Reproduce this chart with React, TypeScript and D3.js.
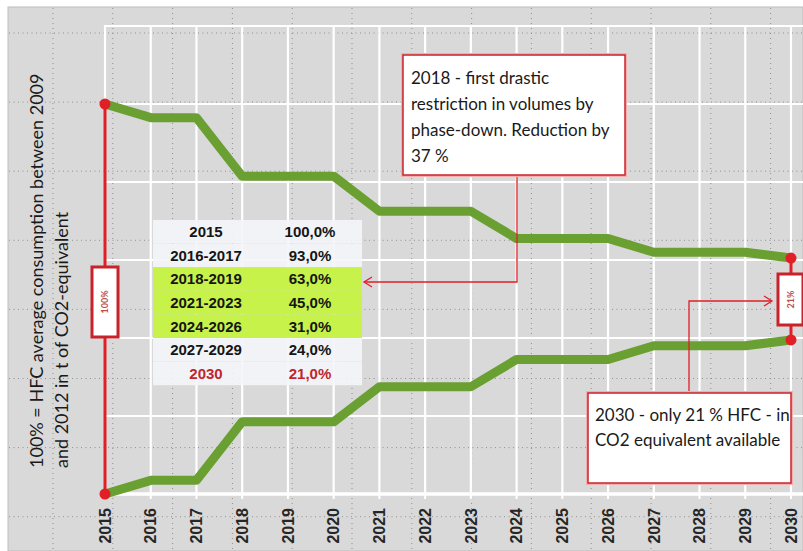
import React from 'react';
import * as d3 from 'd3';

const years = [2015, 2016, 2017, 2018, 2019, 2020, 2021, 2022, 2023, 2024, 2025, 2026, 2027, 2028, 2029, 2030];
const quota = [100, 93, 93, 63, 63, 63, 45, 45, 45, 31, 31, 31, 24, 24, 24, 21];
const yTicks = [0, 20, 40, 60, 80, 100, 120];
const tablePeriods = ['2015', '2016-2017', '2018-2019', '2021-2023', '2024-2026', '2027-2029', '2030'];
const tableValues = ['100,0%', '93,0%', '63,0%', '45,0%', '31,0%', '24,0%', '21,0%'];
const tableHighlight = [false, false, true, true, true, false, false];
const axisTitle = ['100% = HFC average consumption between 2009', 'and 2012 in t of CO2-equivalent'];
const note1 = ['2018 - first drastic', 'restriction in volumes by', 'phase-down. Reduction by', '37 %'];
const note2 = ['2030 - only 21 % HFC - in', 'CO2 equivalent available'];
const startLabel = '100%';
const endLabel = '21%';

const GREEN = '#6a9f32';
const RED = '#e01f26';
const BOX_RED = '#c8232b';
const NOTE_FONT = 'Lato, "Open Sans", sans-serif';
const BOLD_FONT = '"Liberation Sans", Arial, sans-serif';

export default function App() {
  const W = 803;
  const H = 551;
  const x = d3.scaleLinear().domain([2015, 2030]).range([105, 791]);
  const y = d3.scaleLinear().domain([0, 120]).range([494, 26]);
  const line = d3.line<[number, number]>().x((d) => d[0]).y((d) => d[1]);
  const upper: [number, number][] = years.map((yr, i) => [x(yr), y(50 + quota[i] / 2)]);
  const lower: [number, number][] = years.map((yr, i) => [x(yr), y(50 - quota[i] / 2)]);

  const dotH = d3.range(8).map((i) => 33 + i * 69.1);
  const dotV = d3.range(13).map((i) => 53 + i * 59.8);

  const x0 = x(years[0]);
  const x1 = x(years[years.length - 1]);
  const first = quota[0];
  const last = quota[quota.length - 1];
  const y0Top = y(50 + first / 2);
  const y0Bot = y(50 - first / 2);
  const y1Top = y(50 + last / 2);
  const y1Bot = y(50 - last / 2);

  const tX = 153, tW = 209, tY = 220, rowH = 23.6;
  const c1 = 206, c2 = 310;

  return (
    <svg width={W} height={H} style={{ position: 'absolute', left: 0, top: 0 }}>
      <rect x={0} y={0} width={W} height={H} fill="#ffffff" />
      <rect x={8} y={7} width={W - 8} height={H - 7} fill="#d9d9d9" stroke="#bdbdbd" strokeWidth={1} />

      {dotH.map((v, i) => (
        <line key={'dh' + i} x1={9} x2={W} y1={v} y2={v} stroke="#8f8f8f" strokeWidth={1} strokeDasharray="1,3.5" />
      ))}
      {dotV.map((v, i) => (
        <line key={'dv' + i} x1={v} x2={v} y1={8} y2={H} stroke="#8f8f8f" strokeWidth={1} strokeDasharray="1,4" />
      ))}

      {yTicks.map((t) => (
        <line key={'gh' + t} x1={x0 - 1} x2={W} y1={y(t)} y2={y(t)} stroke="#ffffff" strokeWidth={2.2} />
      ))}
      {years.map((yr) => (
        <line key={'gv' + yr} x1={x(yr)} x2={x(yr)} y1={y(120)} y2={y(0)} stroke="#ffffff" strokeWidth={2.2} />
      ))}
      <line x1={x0 - 2} x2={W} y1={y(0)} y2={y(0)} stroke="#ffffff" strokeWidth={3.5} />
      {years.map((yr) => (
        <line key={'tk' + yr} x1={x(yr)} x2={x(yr)} y1={y(0)} y2={y(0) + 5} stroke="#ffffff" strokeWidth={2} />
      ))}

      {years.map((yr) => (
        <text
          key={'xl' + yr}
          transform={`translate(${x(yr)},508) rotate(-90)`}
          textAnchor="end"
          dy="0.36em"
          fontFamily={BOLD_FONT}
          fontWeight="bold"
          fontSize={16}
          fill="#262626"
        >
          {yr}
        </text>
      ))}

      {axisTitle.map((t, i) => (
        <text
          key={'at' + i}
          transform={`translate(${37 + i * 25},468) rotate(-90)`}
          textAnchor="start"
          dy="0.35em"
          fontFamily={NOTE_FONT}
          fontSize={18}
          fill="#1a1a1a"
        >
          {t}
        </text>
      ))}

      {tablePeriods.map((p, i) => (
        <g key={'tr' + i}>
          <rect
            x={tX}
            y={tY + i * rowH}
            width={tW}
            height={rowH}
            fill={tableHighlight[i] ? '#c6f24a' : '#f3f5f8'}
            opacity={tableHighlight[i] ? 1 : 0.9}
          />
          <text x={c1} y={tY + i * rowH + rowH / 2} dy="0.36em" textAnchor="middle" fontFamily={BOLD_FONT} fontWeight="bold" fontSize={15} fill={i === tablePeriods.length - 1 ? '#c0262d' : '#151515'}>
            {p}
          </text>
          <text x={c2} y={tY + i * rowH + rowH / 2} dy="0.36em" textAnchor="middle" fontFamily={BOLD_FONT} fontWeight="bold" fontSize={15} fill={i === tablePeriods.length - 1 ? '#c0262d' : '#151515'}>
            {tableValues[i]}
          </text>
        </g>
      ))}

      <path d={line(upper) || ''} fill="none" stroke={GREEN} strokeWidth={9} strokeLinejoin="round" />
      <path d={line(lower) || ''} fill="none" stroke={GREEN} strokeWidth={9} strokeLinejoin="round" />

      <line x1={x0} x2={x0} y1={y0Top} y2={y0Bot} stroke={RED} strokeWidth={3} />
      <circle cx={x0} cy={y0Top} r={5.5} fill={RED} />
      <circle cx={x0} cy={y0Bot} r={5.5} fill={RED} />
      <rect x={x0 - 13} y={267} width={26} height={70} fill="#ffffff" stroke={BOX_RED} strokeWidth={3} />
      <text transform={`translate(${x0},302) rotate(-90)`} textAnchor="middle" dy="0.35em" fontFamily={NOTE_FONT} fontWeight="bold" fontSize={9} fill="#c0504d">
        {startLabel}
      </text>

      <line x1={x1} x2={x1} y1={y1Top} y2={y1Bot} stroke={RED} strokeWidth={3} />
      <circle cx={x1} cy={y1Top} r={5.5} fill={RED} />
      <circle cx={x1} cy={y1Bot} r={5.5} fill={RED} />
      <rect x={x1 - 13} y={274} width={25} height={51} fill="#ffffff" stroke={BOX_RED} strokeWidth={3} />
      <text transform={`translate(${x1},299.5) rotate(-90)`} textAnchor="middle" dy="0.35em" fontFamily={NOTE_FONT} fontWeight="bold" fontSize={9} fill="#c0504d">
        {endLabel}
      </text>

      <path d="M517,175 V282 H364" fill="none" stroke={RED} strokeWidth={1.3} />
      <path d="M372,277 L364,282 L372,287" fill="none" stroke={RED} strokeWidth={1.3} />
      <rect x={403} y={55} width={222} height={120} fill="#ffffff" stroke="#f0b0b0" strokeWidth={4} />
      <rect x={403} y={55} width={222} height={120} fill="#ffffff" stroke={BOX_RED} strokeWidth={1.5} />
      {note1.map((t, i) => (
        <text key={'n1' + i} x={411} y={84 + i * 26} fontFamily={NOTE_FONT} fontSize={17} fill="#1a1a1a">
          {t}
        </text>
      ))}

      <path d="M689,393 V301 H772" fill="none" stroke={RED} strokeWidth={1.3} />
      <path d="M764,296 L772,301 L764,306" fill="none" stroke={RED} strokeWidth={1.3} />
      <rect x={588} y={393} width={203} height={90} fill="#ffffff" stroke="#f0b0b0" strokeWidth={4} />
      <rect x={588} y={393} width={203} height={90} fill="#ffffff" stroke={BOX_RED} strokeWidth={1.5} />
      {note2.map((t, i) => (
        <text key={'n2' + i} x={595} y={421 + i * 25} fontFamily={NOTE_FONT} fontSize={17} fill="#1a1a1a">
          {t}
        </text>
      ))}
    </svg>
  );
}
